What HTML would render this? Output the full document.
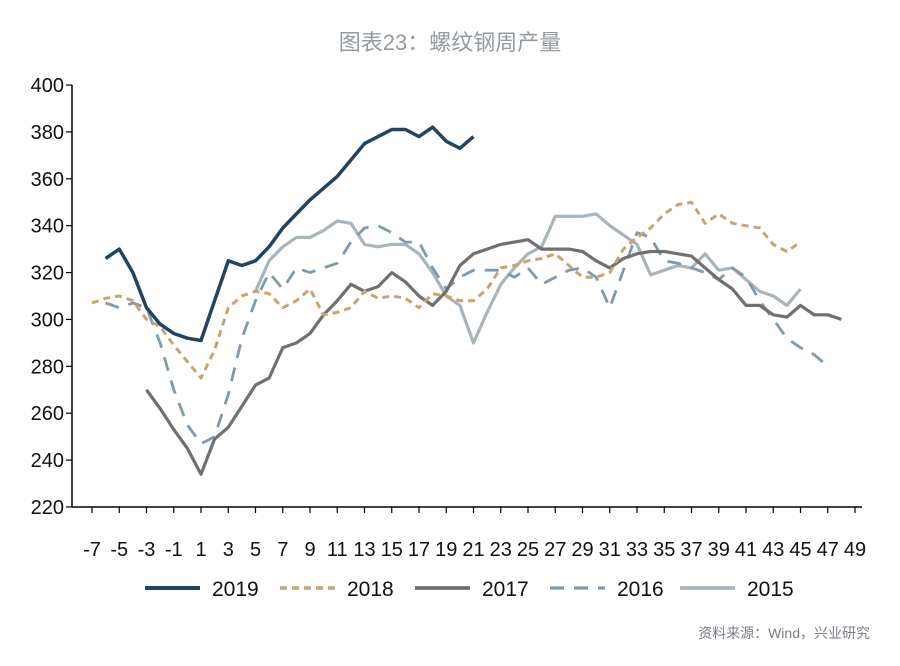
<!DOCTYPE html>
<html><head><meta charset="utf-8"><style>
body{margin:0;background:#fff;width:900px;height:661px;overflow:hidden;font-family:"Liberation Sans","Noto Sans CJK SC",sans-serif}
</style></head><body>
<svg id="chart" width="900" height="661" xmlns="http://www.w3.org/2000/svg">
<text x="450" y="50" text-anchor="middle" font-size="22" fill="#949aa0" font-family="Liberation Sans, Noto Sans CJK SC, sans-serif">图表23：螺纹钢周产量</text>
<g id="axes"></g><g id="series"></g><g id="legend"></g>
<text x="870" y="638" text-anchor="end" font-size="14" fill="#7a7f85" font-family="Liberation Sans, Noto Sans CJK SC, sans-serif">资料来源：Wind，兴业研究</text>
</svg>
<script>
const weeksX=[-7,-5,-3,-1,1,3,5,7,9,11,13,15,17,19,21,23,25,27,29,31,33,35,37,39,41,43,45,47,49];
const yTicks=[220,240,260,280,300,320,340,360,380,400];
const s2019Start=-6;
const s2019=[326,330,320,305,298,294,292,291,308,325,323,325,331,339,345,351,356,361,368,375,378,381,381,378,382,376,373,378];
const s2018Start=-7;
const s2018=[307,309,310,308,300,297,289,282,275,287,305,310,312,311,305,308,313,302,303,305,312,309,310,309,305,311,310,308,308,313,322,323,325,326,328,323,318,318,320,330,335,339,345,349,350,341,345,341,340,339,332,329,333];
const s2017Start=-3;
const s2017=[270,262,253,245,234,249,254,263,272,275,288,290,294,302,308,315,312,314,320,316,310,306,312,323,328,330,332,333,334,330,330,330,329,325,322,326,328,329,329,328,327,322,317,313,306,306,302,301,306,302,302,300];
const s2016Start=-6;
const s2016=[307,305,307,305,290,270,255,247,250,268,292,308,320,313,322,320,322,324,333,339,340,337,333,333,322,313,318,321,321,321,318,322,315,318,321,322,318,305,321,337,335,325,324,322,320,317,322,318,308,300,292,288,285,280];
const s2015Start=5;
const s2015=[312,325,331,335,335,338,342,341,332,331,332,332,328,320,310,306,290,303,315,322,328,331,344,344,344,345,340,336,332,319,321,323,322,328,321,322,317,312,310,306,313];
const seriesNames=["2019","2018","2017","2016","2015"];
const NS="http://www.w3.org/2000/svg";
const X=w=>92+(w+7)*13.625;
const Y=v=>507-(v-220)*(422/180);
function mk(tag,attrs,parent){const e=document.createElementNS(NS,tag);for(const k in attrs)e.setAttribute(k,attrs[k]);parent.appendChild(e);return e;}
const axes=document.getElementById('axes');
let a=mk('line',{x1:72,y1:Y(400),x2:72,y2:Y(220),stroke:'#000','stroke-width':1.5},axes);


a=mk('line',{x1:72,y1:507,x2:862,y2:507,stroke:'#000','stroke-width':1.5},axes);


yTicks.forEach(v=>{
  mk('line',{x1:66,y1:Y(v),x2:72,y2:Y(v),stroke:'#000','stroke-width':1.2},axes);
  const t=mk('text',{x:64,y:Y(v)+7,'text-anchor':'end','font-size':20,fill:'#111','font-family':'Liberation Sans Narrow, Liberation Sans, sans-serif'},axes);
  t.textContent=v;
  
  
});
weeksX.forEach(w=>{
  mk('line',{x1:X(w),y1:507,x2:X(w),y2:513,stroke:'#000','stroke-width':1.2},axes);
  const t=mk('text',{x:X(w),y:556,'text-anchor':'middle','font-size':20,fill:'#111','font-family':'Liberation Sans Narrow, Liberation Sans, sans-serif'},axes);
  t.textContent=w;
  
  
});
const styles=[
 {c:'#1f4563',d:'',w:3.5},
 {c:'#c8a471',d:'7 5',w:3},
 {c:'#707070',d:'',w:3.2},
 {c:'#7f9aac',d:'14 10',w:2.8},
 {c:'#a9b4bb',d:'',w:3.2}];
const data=[[s2019Start,s2019],[s2018Start,s2018],[s2017Start,s2017],[s2016Start,s2016],[s2015Start,s2015]];
const sg=document.getElementById('series');
const order=[4,3,2,1,0];
order.forEach(i=>{
  const [st,arr]=data[i];const s=styles[i];
  const pts=arr.map((v,k)=>X(st+k).toFixed(1)+','+Y(v).toFixed(1)).join(' ');
  const p=mk('polyline',{points:pts,fill:'none',stroke:s.c,'stroke-width':s.w,'stroke-dasharray':s.d,'stroke-linejoin':'round'},sg);
  
  
});
const lg=document.getElementById('legend');
const lx=[145,280,415,550,680];
seriesNames.forEach((n,i)=>{
  const s=styles[i];
  const g=mk('g',{},lg);
  
  
  mk('line',{x1:lx[i],y1:588,x2:lx[i]+55,y2:588,stroke:s.c,'stroke-width':s.w+0.5,'stroke-dasharray':s.d},g);
  const t=mk('text',{x:lx[i]+67,y:596,'font-size':21,fill:'#111'},g);
  t.textContent=n;
});
</script>
</body></html>
